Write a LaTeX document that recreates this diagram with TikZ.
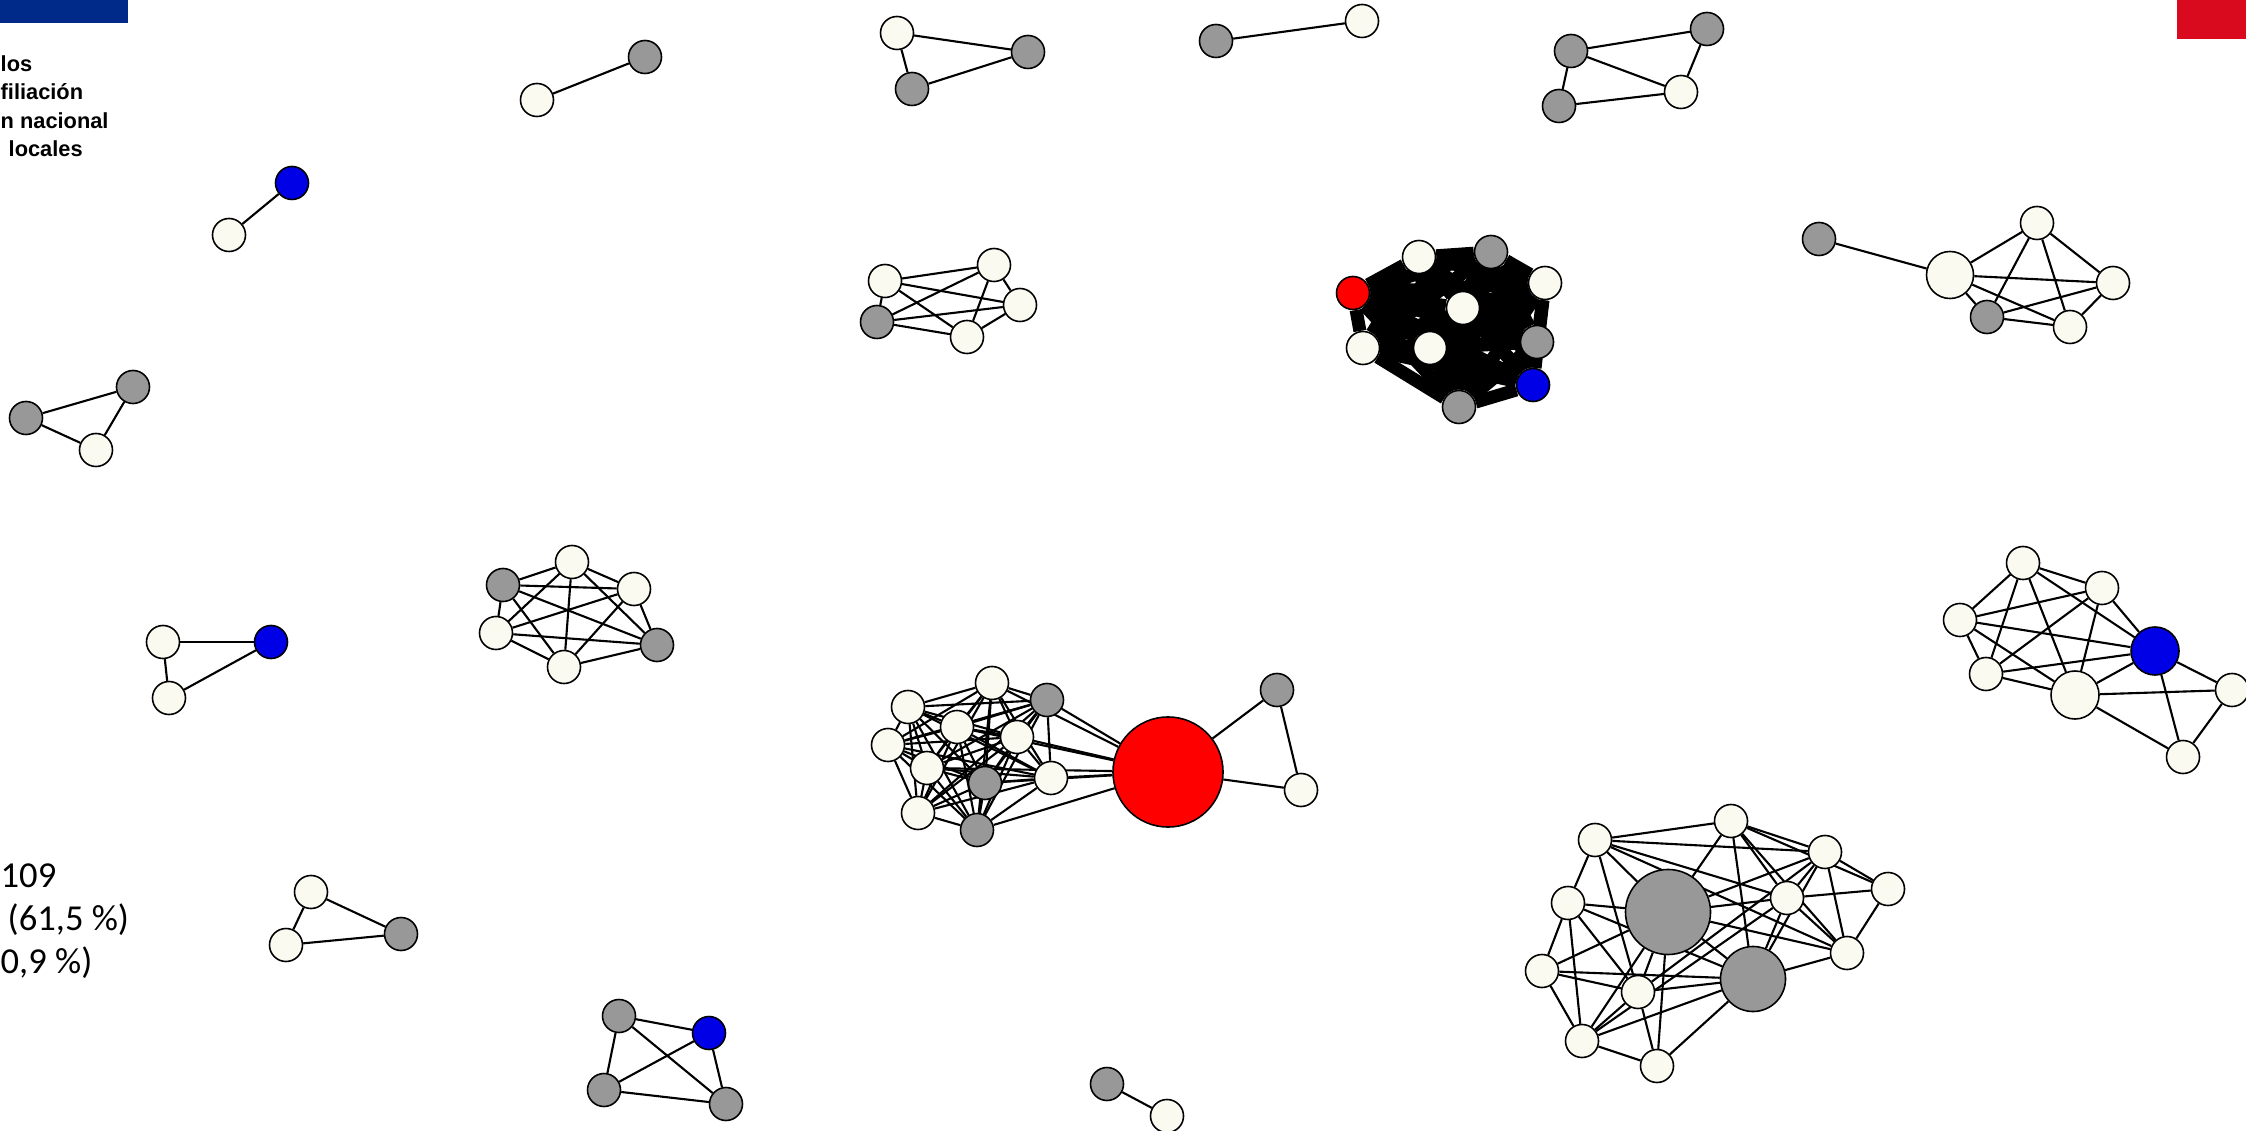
\documentclass[tikz,border=0pt]{standalone}
\usepackage{fontspec}
\setmainfont{Liberation Sans}
\newfontfamily\calibrifont{Carlito}
\usetikzlibrary{backgrounds}
\definecolor{nodecream}{RGB}{250,250,240}
\definecolor{nodegrey}{RGB}{152,152,152}
\definecolor{nodeblue}{RGB}{0,0,230}
\definecolor{nodered}{RGB}{255,0,0}
\definecolor{barblue}{RGB}{0,42,138}
\definecolor{barred}{RGB}{218,10,30}
\begin{document}
\begin{tikzpicture}[x=0.01cm, y=-0.01cm,
        vertex/.style={circle, draw=black, line width=0.45pt, inner sep=0pt, minimum size=0.33cm},
        vcream/.style={vertex, fill=nodecream},
        vgrey/.style={vertex, fill=nodegrey},
        vblue/.style={vertex, fill=nodeblue},
        vred/.style={vertex, fill=nodered},
        tie/.style={line width=0.6pt},
        heavytie/.style={line width=0.13cm},
        headline/.style={anchor=base west, inner sep=0pt, font=\fontsize{6.2}{7}\selectfont\bfseries},
        countline/.style={anchor=base west, inner sep=0pt, font=\fontsize{10.4}{12}\calibrifont}]
        \useasboundingbox (0,0) rectangle (2246,1131);
        \fill[barblue] (0,0) rectangle (128,23);
        \fill[barred] (2177,0) rectangle (2246,39);

        \node[headline] (hl1) at (0,72) {los};
        \node[headline] (hl2) at (0,100) {filiación};
        \node[headline] (hl3) at (0,129) {n nacional};
        \node[headline] (hl4) at (8,157) {locales};

        \node[countline] (ct1) at (0,887) {109};
        \node[countline] (ct2) at (7,930) {(61,5 \%)};
        \node[countline] (ct3) at (0,973) {0,9 \%)};

        \node[vcream] (a1) at (537,100) {};
        \node[vgrey] (a2) at (645,57) {};
        \node[vblue] (b1) at (292,183) {};
        \node[vcream] (b2) at (229,235) {};
        \node[vgrey] (c1) at (26,418) {};
        \node[vgrey] (c2) at (133,387) {};
        \node[vcream] (c3) at (96,450) {};
        \node[vcream] (d1) at (163,642) {};
        \node[vblue] (d2) at (271,642) {};
        \node[vcream] (d3) at (169,698) {};
        \node[vcream] (e1) at (311,892) {};
        \node[vgrey] (e2) at (401,934) {};
        \node[vcream] (e3) at (286,945) {};
        \node[vgrey] (f1) at (619,1016) {};
        \node[vblue] (f2) at (709,1033) {};
        \node[vgrey] (f3) at (604,1090) {};
        \node[vgrey] (f4) at (726,1104) {};
        \node[vgrey] (g1) at (1107,1084) {};
        \node[vcream] (g2) at (1167,1116) {};
        \node[vcream] (h1) at (897,33) {};
        \node[vgrey] (h2) at (912,89) {};
        \node[vgrey] (h3) at (1028,52) {};
        \node[vgrey] (i1) at (1216,41) {};
        \node[vcream] (i2) at (1362,21) {};
        \node[vgrey] (j1) at (1571,51) {};
        \node[vgrey] (j2) at (1559,106) {};
        \node[vgrey] (j3) at (1707,29) {};
        \node[vcream] (j4) at (1681,92) {};

        \node[vcream] (k1) at (885,281) {};
        \node[vgrey] (k2) at (877,322) {};
        \node[vcream] (k3) at (994,265) {};
        \node[vcream] (k4) at (1020,305) {};
        \node[vcream] (k5) at (967,337) {};

        \node[vgrey] (l1) at (503,585) {};
        \node[vcream] (l2) at (572,562) {};
        \node[vcream] (l3) at (634,589) {};
        \node[vcream] (l4) at (496,633) {};
        \node[vcream] (l5) at (564,667) {};
        \node[vgrey] (l6) at (657,645) {};

        \node[vred] (m1) at (1353,293) {};
        \node[vcream] (m2) at (1419,257) {};
        \node[vgrey] (m3) at (1491,252) {};
        \node[vcream] (m4) at (1545,283) {};
        \node[vcream] (m5) at (1463,308) {};
        \node[vcream] (m6) at (1363,348) {};
        \node[vcream] (m7) at (1430,348) {};
        \node[vgrey] (m8) at (1537,342) {};
        \node[vblue] (m9) at (1533,385) {};
        \node[vgrey] (m10) at (1459,407) {};

        \node[vgrey] (n1) at (1819,239) {};
        \node[vcream, minimum size=0.47cm] (n2) at (1950,275) {};
        \node[vcream] (n3) at (2037,223) {};
        \node[vcream] (n4) at (2113,283) {};
        \node[vgrey] (n5) at (1987,317) {};
        \node[vcream] (n6) at (2070,327) {};

        \node[vcream] (o1) at (2023,563) {};
        \node[vcream] (o2) at (2102,588) {};
        \node[vcream] (o3) at (1960,620) {};
        \node[vcream] (o4) at (1986,674) {};
        \node[vcream, minimum size=0.48cm] (o5) at (2075,695) {};
        \node[vblue, minimum size=0.48cm] (o6) at (2155,651) {};
        \node[vcream] (o7) at (2232,690) {};
        \node[vcream] (o8) at (2183,757) {};

        \node[vcream] (p1) at (1595,840) {};
        \node[vcream] (p2) at (1731,821) {};
        \node[vcream] (p3) at (1825,852) {};
        \node[vcream] (p4) at (1888,889) {};
        \node[vcream] (p5) at (1787,898) {};
        \node[vgrey, minimum size=0.85cm] (p6) at (1668,912) {};
        \node[vgrey, minimum size=0.65cm] (p7) at (1753,979) {};
        \node[vcream] (p8) at (1847,953) {};
        \node[vcream] (p9) at (1568,903) {};
        \node[vcream] (p10) at (1542,971) {};
        \node[vcream] (p11) at (1638,992) {};
        \node[vcream] (p12) at (1582,1041) {};
        \node[vcream] (p13) at (1657,1066) {};

        \node[vred, minimum size=1.1cm] (q0) at (1168,772) {};
        \node[vgrey] (qa) at (1277,690) {};
        \node[vcream] (qb) at (1301,790) {};
        \node[vcream] (s1) at (908,707) {};
        \node[vcream] (s2) at (992,683) {};
        \node[vgrey] (s3) at (1047,700) {};
        \node[vcream] (s4) at (957,727) {};
        \node[vcream] (s5) at (1017,737) {};
        \node[vcream] (s6) at (888,745) {};
        \node[vcream] (s7) at (927,768) {};
        \node[vgrey] (s8) at (985,783) {};
        \node[vcream] (s9) at (1051,778) {};
        \node[vcream] (s10) at (918,813) {};
        \node[vgrey] (s11) at (977,830) {};

        \begin{scope}[on background layer]
          \foreach \a/\b in {a1/a2, b1/b2, g1/g2, i1/i2,
              c1/c2, c1/c3, c2/c3, d1/d2, d1/d3, d3/d2, e1/e2, e1/e3, e3/e2,
              f1/f2, f1/f3, f1/f4, f2/f3, f2/f4, f3/f4, h1/h2, h1/h3, h2/h3,
              j1/j3, j1/j4, j1/j2, j2/j4, j3/j4,
              n1/n2, n2/n3, n2/n4, n2/n5, n2/n6, n3/n5, n3/n6, n3/n4, n4/n5, n4/n6, n5/n6,
              o1/o2, o1/o3, o1/o4, o1/o5, o1/o6, o2/o3, o2/o4, o2/o5, o2/o6, o3/o4,
              o3/o5, o3/o6, o4/o5, o4/o6, o5/o6, o5/o7, o5/o8, o6/o7, o6/o8, o7/o8,
              p1/p2, p1/p3, p1/p5, p1/p6, p1/p9, p1/p11, p1/p8, p2/p3, p2/p6, p2/p5,
              p2/p7, p2/p8, p2/p4, p3/p4, p3/p5, p3/p8, p3/p6, p3/p7, p3/p11, p4/p5,
              p4/p8, p5/p6, p5/p7, p5/p8, p5/p12, p6/p7, p6/p9, p6/p10, p6/p11, p6/p12,
              p6/p13, p6/p8, p7/p8, p7/p11, p7/p10, p7/p12, p7/p13, p9/p10, p9/p11,
              p9/p12, p9/p7, p10/p11, p10/p12, p11/p12, p11/p13, p12/p13,
              q0/qa, q0/qb, qa/qb, q0/s2, q0/s3, q0/s4, q0/s5, q0/s7, q0/s8, q0/s9, q0/s11}
            \draw[tie] (\a) -- (\b);
          \foreach \i in {1,...,4} {
            \pgfmathtruncatemacro\nxt{\i+1}
            \foreach \j in {\nxt,...,5}
              \draw[tie] (k\i) -- (k\j);
          }
          \foreach \i in {1,...,5} {
            \pgfmathtruncatemacro\nxt{\i+1}
            \foreach \j in {\nxt,...,6}
              \draw[tie] (l\i) -- (l\j);
          }
          \foreach \i in {1,...,10} {
            \pgfmathtruncatemacro\nxt{\i+1}
            \foreach \j in {\nxt,...,11}
              \draw[tie] (s\i) -- (s\j);
          }
          \foreach \i in {1,...,9} {
            \pgfmathtruncatemacro\nxt{\i+1}
            \foreach \j in {\nxt,...,10}
              \draw[heavytie] (m\i) -- (m\j);
          }
        \end{scope}
      \end{tikzpicture}
\end{document}
